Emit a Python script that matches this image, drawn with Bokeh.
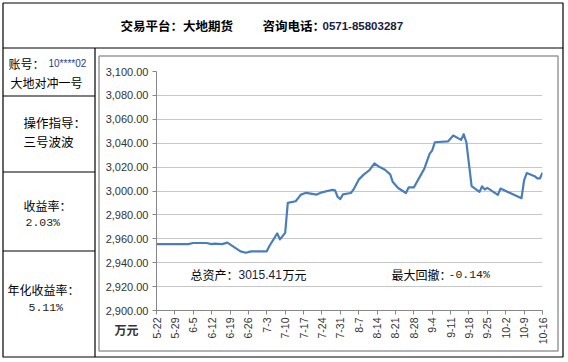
import pandas as pd
from bokeh.plotting import figure
from bokeh.models import FixedTicker, NumeralTickFormatter, Range1d
from bokeh.core.properties import value
from bokeh.embed import file_html
from bokeh.resources import INLINE
from math import pi

# ---------------- data ----------------
dates = ["2017-05-22", "2017-06-03", "2017-06-05", "2017-06-10", "2017-06-12", "2017-06-13",
         "2017-06-16", "2017-06-18", "2017-06-23", "2017-06-25", "2017-06-27", "2017-07-03",
         "2017-07-04", "2017-07-07", "2017-07-08", "2017-07-10", "2017-07-11", "2017-07-14",
         "2017-07-16", "2017-07-18", "2017-07-22", "2017-07-24", "2017-07-28", "2017-07-29",
         "2017-07-30", "2017-07-31", "2017-08-01", "2017-08-04", "2017-08-05", "2017-08-07",
         "2017-08-09", "2017-08-11", "2017-08-13", "2017-08-15", "2017-08-17", "2017-08-19",
         "2017-08-20", "2017-08-22", "2017-08-25", "2017-08-26", "2017-08-28", "2017-09-01",
         "2017-09-03", "2017-09-04", "2017-09-05", "2017-09-10", "2017-09-12", "2017-09-15",
         "2017-09-16", "2017-09-17", "2017-09-19", "2017-09-22", "2017-09-23", "2017-09-24",
         "2017-09-25", "2017-09-29", "2017-09-30", "2017-10-08", "2017-10-09", "2017-10-10",
         "2017-10-13", "2017-10-14", "2017-10-15", "2017-10-16"]
equity = [2955.5, 2955.5, 2956.5, 2956.5, 2955.5, 2956.0,
          2955.5, 2956.8, 2949.5, 2948.3, 2949.5, 2949.5,
          2954.0, 2964.5, 2959.5, 2965.0, 2990.0, 2991.4,
          2997.0, 2998.5, 2997.0, 2998.9, 3001.0, 3000.5,
          2995.0, 2993.3, 2997.2, 2998.3, 3001.1, 3009.5,
          3013.9, 3017.2, 3023.0, 3020.0, 3017.8, 3013.9,
          3007.5, 3002.5, 2998.3, 3003.0, 3003.0, 3018.7,
          3031.0, 3034.0, 3040.8, 3041.5, 3046.4, 3042.8,
          3047.5, 3040.8, 3004.0, 2999.2, 3003.9, 3001.3,
          3002.6, 2996.7, 3002.0, 2994.0, 3009.0, 3015.0,
          3012.4, 3010.5, 3010.5, 3015.41]
tick_labels = ["5-22", "5-29", "6-5", "6-12", "6-19", "6-26", "7-3", "7-10", "7-17", "7-24",
               "7-31", "8-7", "8-14", "8-21", "8-28", "9-4", "9-11", "9-18", "9-25", "10-2",
               "10-9", "10-16"]
y_ticks = [2900, 2920, 2940, 2960, 2980, 3000, 3020, 3040, 3060, 3080, 3100]

header_platform = "交易平台：大地期货"
header_phone_label = "咨询电话："
header_phone = "0571-85803287"
account_label = "账号："
account_no = "10****02"
account_name = "大地对冲一号"
guide_label = "操作指导："
guide_name = "三号波波"
ret_label = "收益率："
ret_value = "2.03%"
ann_label = "年化收益率："
ann_value = "5.11%"
asset_label = "总资产："
asset_value = "3015.41"
asset_unit = "万元"
dd_label = "最大回撤："
dd_value = "-0.14%"
unit_label = "万元"

# ---------------- page geometry (pixels) ----------------
PW, PH = 566, 360                       # background canvas
CX, CY, CW, CH = 100, 57, 456, 292      # chart figure box on page
FL, FR, FT, FB = 156, 542, 71, 310      # chart frame edges on page

# ---------------- background (table, texts) ----------------
bg = figure(width=PW, height=PH, output_backend="svg", toolbar_location=None,
            x_range=Range1d(0, PW), y_range=Range1d(PH, 0),
            min_border=0, x_axis_type=None, y_axis_type=None)
bg.outline_line_color = None
bg.grid.visible = False
bg.background_fill_color = "white"
bg.border_fill_color = "white"

# table lines
bg.multi_line(xs=[[2.5, 562.5, 562.5, 2.5, 2.5], [2.5, 562.5], [94.5, 94.5],
                  [2.5, 94.5], [2.5, 94.5], [2.5, 94.5]],
              ys=[[2.5, 2.5, 356.5, 356.5, 2.5], [47.5, 47.5], [47.5, 356.5],
                  [95.5, 95.5], [171.5, 171.5], [250.5, 250.5]],
              line_color="black", line_width=1.2)
# chart area border
bg.multi_line(xs=[[98.5, 557.5, 557.5, 98.5, 98.5]], ys=[[55.5, 55.5, 350.5, 350.5, 55.5]],
              line_color="#9A9A9A", line_width=1.5)


def text(X, Y, s, size="12px", font="Noto Sans CJK SC", color="black", bold=False):
    bg.text(x=[X], y=[Y], text=[s], text_font=value(font), text_font_size=size,
            text_color=color, text_font_style="bold" if bold else "normal",
            text_align="left", text_baseline="middle")


# header
text(120, 25, header_platform, size="12.5px", bold=True)
text(262, 25, header_phone_label, size="12.5px", bold=True)
text(322, 25, header_phone, size="11.5px", font="Liberation Sans", color="#1a1a40", bold=True)

# left column
text(8, 63, account_label, size="12px")
text(48, 63, account_no, size="10px", font="Liberation Sans", color="#1F3C88")
text(10, 82, account_name, size="12px")
text(23, 122, guide_label, size="12.5px")
text(23, 141, guide_name, size="12.5px")
text(23, 205, ret_label, size="12px")
text(25, 222, ret_value, size="11.5px", font="Liberation Mono", color="#222222")
text(7, 289, ann_label, size="12px")
text(28, 307, ann_value, size="11.5px", font="Liberation Mono", color="#222222")

# in-chart annotations
text(190, 274, asset_label, size="12px")
text(238, 274, asset_value, size="12px", font="Liberation Sans", color="#1a1a40")
text(282, 274, asset_unit, size="12px")
text(391, 274, dd_label, size="12px")
text(448, 274, dd_value, size="11.5px", font="Liberation Mono", color="#222222")
text(114, 329, unit_label, size="12px", bold=True, color="#333333")

# ---------------- chart ----------------
base = pd.Timestamp(dates[0])
days = [(pd.Timestamp(d) - base).days for d in dates]
tick_pos = [7 * i for i in range(len(tick_labels))]

p = figure(width=CW, height=CH, output_backend="svg", toolbar_location=None,
           x_range=Range1d(tick_pos[0], tick_pos[-1]),
           y_range=Range1d(y_ticks[0], y_ticks[-1]),
           min_border_left=FL - CX, min_border_right=CX + CW - FR,
           min_border_top=FT - CY, min_border_bottom=CY + CH - FB)
p.styles = {"margin-top": f"-{PH - CY}px", "margin-left": f"{CX}px"}
p.outline_line_color = None
p.background_fill_alpha = 0
p.border_fill_alpha = 0

p.line(days, equity, line_color="#4A7EBB", line_width=2.2, line_join="round")

p.xgrid.grid_line_color = None
p.ygrid.grid_line_color = "#C8C8C8"
p.ygrid.grid_line_width = 1

p.yaxis.ticker = FixedTicker(ticks=y_ticks)
p.yaxis.formatter = NumeralTickFormatter(format="0,0.00")
p.xaxis.ticker = FixedTicker(ticks=tick_pos)
p.xaxis.major_label_overrides = {t: l for t, l in zip(tick_pos, tick_labels)}
p.xaxis.major_label_orientation = pi / 2
for ax in (p.xaxis, p.yaxis):
    ax.axis_line_color = "#868686"
    ax.major_tick_line_color = "#868686"
    ax.major_tick_out = 4
    ax.major_tick_in = 0
    ax.minor_tick_line_color = None
    ax.major_label_text_font = "Liberation Sans"
    ax.major_label_text_color = "#333333"
    ax.major_label_standoff = 4
p.yaxis.major_label_text_font_size = "11px"
p.xaxis.major_label_text_font_size = "10.5px"
p.xaxis.major_label_standoff = 3

open("out.html", "w").write(file_html([bg, p], INLINE))
